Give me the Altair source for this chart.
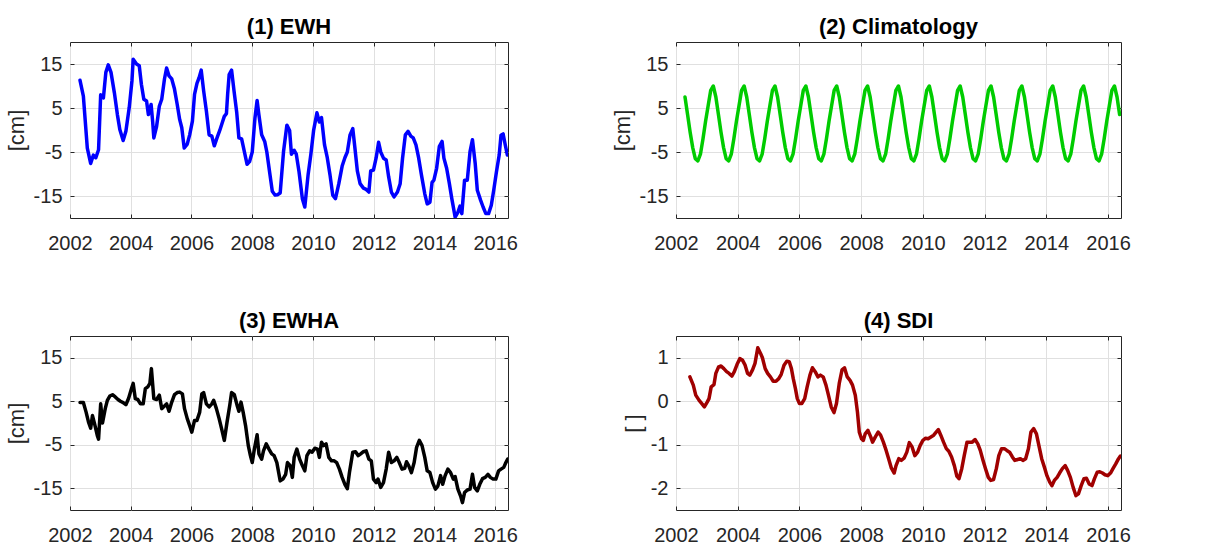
import altair as alt
import pandas as pd

FONT = "Liberation Sans"
TXT = "#262626"

X_TICKS = [2002, 2004, 2006, 2008, 2010, 2012, 2014, 2016]
X_DOMAIN = [2002.0, 2016.42]

# (1) EWH [cm]
ewh_t = [2002.33, 2002.44, 2002.57, 2002.68, 2002.77, 2002.85, 2002.94, 2003.01, 2003.10, 2003.18,
         2003.26, 2003.35, 2003.46, 2003.56, 2003.64, 2003.75, 2003.84, 2003.95, 2004.04, 2004.08,
         2004.19, 2004.28, 2004.35, 2004.43, 2004.52, 2004.58, 2004.67, 2004.72, 2004.76, 2004.85,
         2004.94, 2005.02, 2005.11, 2005.18, 2005.26, 2005.35, 2005.44, 2005.53, 2005.61, 2005.68,
         2005.76, 2005.86, 2005.94, 2006.03, 2006.10, 2006.18, 2006.25, 2006.32, 2006.40, 2006.49,
         2006.58, 2006.67, 2006.75, 2006.84, 2006.93, 2007.02, 2007.08, 2007.15, 2007.19, 2007.24,
         2007.32, 2007.40, 2007.49, 2007.56, 2007.65, 2007.74, 2007.83, 2007.91, 2008.00, 2008.09,
         2008.16, 2008.22, 2008.31, 2008.41, 2008.48, 2008.57, 2008.66, 2008.75, 2008.83, 2008.92,
         2009.03, 2009.14, 2009.23, 2009.29, 2009.38, 2009.45, 2009.54, 2009.65, 2009.73, 2009.84,
         2009.93, 2010.02, 2010.13, 2010.21, 2010.28, 2010.38, 2010.47, 2010.56, 2010.65, 2010.74,
         2010.85, 2010.96, 2011.05, 2011.13, 2011.22, 2011.31, 2011.38, 2011.46, 2011.55, 2011.66,
         2011.75, 2011.84, 2011.90, 2011.99, 2012.08, 2012.16, 2012.23, 2012.32, 2012.41, 2012.49,
         2012.58, 2012.67, 2012.78, 2012.87, 2012.95, 2013.04, 2013.13, 2013.22, 2013.30, 2013.39,
         2013.48, 2013.57, 2013.68, 2013.76, 2013.85, 2013.92, 2013.98, 2014.07, 2014.16, 2014.25,
         2014.31, 2014.40, 2014.49, 2014.57, 2014.68, 2014.77, 2014.84, 2014.90, 2014.99, 2015.08,
         2015.17, 2015.25, 2015.34, 2015.41, 2015.52, 2015.60, 2015.69, 2015.78, 2015.87, 2015.95,
         2016.04, 2016.13, 2016.19, 2016.26, 2016.33, 2016.40]
ewh_v = [11.3, 7.7, -4.1, -7.6, -5.7, -6.3, -4.5, 8.0, 7.3, 13.1,
         14.8, 13.1, 8.5, 3.5, 0.1, -2.4, -0.3, 5.1, 11.2, 16.1,
         15.0, 14.6, 10.4, 7.0, 6.6, 3.5, 5.8, 2.0, -1.8, 0.8,
         5.4, 7.0, 11.6, 14.1, 12.3, 11.6, 9.3, 5.8, 2.4, 0.5,
         -4.1, -3.2, -1.1, 2.0, 8.1, 10.6, 11.9, 13.6, 8.9, 4.3,
         -1.1, -1.4, -3.6, -1.8, -0.1, 1.8, 3.1, 3.7, 8.1, 12.6,
         13.6, 8.9, 3.9, -1.8, -2.0, -4.9, -7.8, -7.2, -5.0, 2.8,
         6.7, 3.4, -1.1, -2.6, -5.0, -9.5, -13.9, -14.8, -14.7, -14.3,
         -4.9, 1.1, -0.1, -5.5, -4.6, -5.5, -9.5, -15.6, -17.5, -10.1,
         -5.5, -0.1, 3.9, 1.8, 2.8, -3.4, -6.3, -10.2, -14.8, -15.6,
         -12.2, -8.2, -6.3, -5.0, -1.1, 0.3, -4.1, -9.3, -12.2, -13.2,
         -13.5, -14.1, -9.3, -9.1, -6.3, -2.8, -5.0, -6.4, -6.8, -10.6,
         -14.1, -15.2, -14.1, -12.2, -6.3, -1.1, -0.3, -1.4, -1.8, -3.4,
         -6.4, -10.2, -14.5, -16.8, -16.4, -11.9, -11.4, -8.7, -3.7, -2.6,
         -6.4, -8.7, -12.2, -15.6, -19.8, -18.7, -17.3, -19.0, -11.4, -11.4,
         -4.9, -2.2, -7.6, -13.7, -16.0, -17.5, -19.0, -19.0, -17.1, -13.7,
         -9.5, -5.7, -1.2, -0.9, -3.4, -5.7]

# (2) Climatology [cm], monthly from Apr 2002 to May 2016
clim_v = [
    7.5, 3.5, -0.5, -4.0, -6.5, -7.0, -5.5, -2.0, 2.0,                     # 2002 Apr-Dec
    5.5, 9.0, 10.0, 7.5, 3.5, -0.5, -4.0, -6.5, -7.0, -5.5, -2.0, 2.0,     # 2003
    5.5, 9.0, 10.0, 7.5, 3.5, -0.5, -4.0, -6.5, -7.0, -5.5, -2.0, 2.0,     # 2004
    5.5, 9.0, 10.0, 7.5, 3.5, -0.5, -4.0, -6.5, -7.0, -5.5, -2.0, 2.0,     # 2005
    5.5, 9.0, 10.0, 7.5, 3.5, -0.5, -4.0, -6.5, -7.0, -5.5, -2.0, 2.0,     # 2006
    5.5, 9.0, 10.0, 7.5, 3.5, -0.5, -4.0, -6.5, -7.0, -5.5, -2.0, 2.0,     # 2007
    5.5, 9.0, 10.0, 7.5, 3.5, -0.5, -4.0, -6.5, -7.0, -5.5, -2.0, 2.0,     # 2008
    5.5, 9.0, 10.0, 7.5, 3.5, -0.5, -4.0, -6.5, -7.0, -5.5, -2.0, 2.0,     # 2009
    5.5, 9.0, 10.0, 7.5, 3.5, -0.5, -4.0, -6.5, -7.0, -5.5, -2.0, 2.0,     # 2010
    5.5, 9.0, 10.0, 7.5, 3.5, -0.5, -4.0, -6.5, -7.0, -5.5, -2.0, 2.0,     # 2011
    5.5, 9.0, 10.0, 7.5, 3.5, -0.5, -4.0, -6.5, -7.0, -5.5, -2.0, 2.0,     # 2012
    5.5, 9.0, 10.0, 7.5, 3.5, -0.5, -4.0, -6.5, -7.0, -5.5, -2.0, 2.0,     # 2013
    5.5, 9.0, 10.0, 7.5, 3.5, -0.5, -4.0, -6.5, -7.0, -5.5, -2.0, 2.0,     # 2014
    5.5, 9.0, 10.0, 7.5, 3.5, -0.5, -4.0, -6.5, -7.0, -5.5, -2.0, 2.0,     # 2015
    5.5, 9.0, 10.0, 7.5, 3.5,                                              # 2016 Jan-May
]
clim_dates = pd.date_range("2002-04-01", "2016-05-01", freq="MS")
clim_t = [d.year + (d.month - 0.5) / 12.0 for d in clim_dates]

# (3) EWHA [cm]
ewha_t = [2002.33, 2002.44, 2002.53, 2002.61, 2002.68, 2002.74, 2002.81, 2002.90, 2002.94, 2003.01,
          2003.07, 2003.16, 2003.23, 2003.31, 2003.40, 2003.49, 2003.58, 2003.66, 2003.75, 2003.84,
          2003.93, 2004.02, 2004.08, 2004.15, 2004.23, 2004.32, 2004.41, 2004.48, 2004.56, 2004.63,
          2004.68, 2004.76, 2004.85, 2004.94, 2005.02, 2005.11, 2005.18, 2005.26, 2005.35, 2005.44,
          2005.53, 2005.61, 2005.70, 2005.77, 2005.86, 2005.94, 2006.01, 2006.10, 2006.18, 2006.27,
          2006.34, 2006.40, 2006.49, 2006.58, 2006.67, 2006.73, 2006.82, 2006.91, 2006.99, 2007.08,
          2007.17, 2007.26, 2007.32, 2007.41, 2007.50, 2007.56, 2007.63, 2007.70, 2007.78, 2007.87,
          2007.94, 2008.00, 2008.07, 2008.16, 2008.22, 2008.31, 2008.37, 2008.46, 2008.55, 2008.64,
          2008.72, 2008.81, 2008.92, 2009.01, 2009.10, 2009.16, 2009.25, 2009.32, 2009.38, 2009.47,
          2009.56, 2009.65, 2009.73, 2009.80, 2009.89, 2009.97, 2010.06, 2010.15, 2010.21, 2010.28,
          2010.35, 2010.43, 2010.52, 2010.61, 2010.70, 2010.78, 2010.87, 2010.96, 2011.05, 2011.13,
          2011.20, 2011.31, 2011.40, 2011.49, 2011.57, 2011.66, 2011.75, 2011.84, 2011.92, 2011.99,
          2012.08, 2012.14, 2012.23, 2012.32, 2012.41, 2012.49, 2012.58, 2012.67, 2012.76, 2012.84,
          2012.93, 2013.02, 2013.08, 2013.15, 2013.24, 2013.33, 2013.41, 2013.50, 2013.59, 2013.68,
          2013.76, 2013.85, 2013.94, 2014.03, 2014.11, 2014.20, 2014.27, 2014.35, 2014.44, 2014.53,
          2014.62, 2014.68, 2014.77, 2014.86, 2014.92, 2014.99, 2015.08, 2015.17, 2015.25, 2015.32,
          2015.41, 2015.49, 2015.58, 2015.67, 2015.76, 2015.84, 2015.93, 2016.02, 2016.11, 2016.19,
          2016.28, 2016.35, 2016.41]
ewha_v = [4.7, 4.7, 2.5, 0.2, -1.2, 1.7, -0.2, -2.9, -3.7, 4.4,
          0.0, 3.3, 5.2, 6.2, 6.5, 6.0, 5.4, 5.0, 4.7, 4.2,
          5.7, 7.8, 9.1, 5.6, 5.4, 4.4, 4.4, 7.9, 8.3, 9.1,
          12.5, 5.6, 5.4, 6.4, 3.3, 3.9, 4.4, 2.7, 4.8, 6.5,
          7.0, 7.1, 6.7, 3.3, 1.0, -0.6, -2.1, 0.6, 0.6, 2.5,
          6.7, 7.0, 4.4, 3.7, 4.4, 5.2, 3.3, 1.0, -1.3, -4.0,
          0.2, 4.1, 7.0, 6.5, 4.1, 2.7, 4.8, 2.5, -0.6, -5.2,
          -7.5, -9.1, -6.0, -2.7, -7.1, -8.3, -6.4, -4.8, -6.0, -7.1,
          -7.5, -9.1, -13.3, -12.9, -11.8, -9.1, -9.8, -12.5, -7.9, -6.0,
          -8.3, -9.8, -11.0, -7.5, -6.4, -6.7, -5.8, -6.0, -7.9, -4.4,
          -5.2, -4.8, -7.9, -8.7, -8.7, -9.1, -10.6, -12.5, -14.1, -15.1,
          -11.4, -6.7, -6.6, -7.5, -7.1, -6.6, -6.4, -8.3, -8.7, -12.9,
          -13.7, -12.9, -14.8, -13.7, -10.6, -6.7, -9.1, -8.7, -7.9, -9.1,
          -10.6, -10.4, -8.9, -9.8, -11.4, -9.1, -5.6, -4.0, -5.2, -7.9,
          -11.0, -11.4, -13.7, -15.2, -14.5, -12.1, -14.1, -12.1, -10.6, -11.4,
          -12.9, -12.3, -15.2, -16.8, -18.3, -16.0, -15.4, -15.2, -11.8, -14.8,
          -15.6, -14.1, -12.8, -12.5, -11.8, -12.5, -12.9, -12.9, -11.0, -10.6,
          -10.2, -9.1, -8.3]

# (4) SDI []
sdi_t = [2002.45, 2002.56, 2002.64, 2002.75, 2002.83, 2002.92, 2003.01, 2003.07, 2003.14, 2003.23,
         2003.29, 2003.38, 2003.46, 2003.55, 2003.64, 2003.72, 2003.81, 2003.89, 2003.98, 2004.07,
         2004.15, 2004.24, 2004.32, 2004.39, 2004.48, 2004.56, 2004.65, 2004.74, 2004.80, 2004.89,
         2004.97, 2005.06, 2005.15, 2005.24, 2005.33, 2005.41, 2005.50, 2005.59, 2005.67, 2005.74,
         2005.80, 2005.87, 2005.93, 2006.00, 2006.08, 2006.17, 2006.25, 2006.34, 2006.42, 2006.51,
         2006.60, 2006.68, 2006.77, 2006.86, 2006.94, 2007.03, 2007.12, 2007.20, 2007.29, 2007.38,
         2007.46, 2007.55, 2007.64, 2007.72, 2007.81, 2007.88, 2007.94, 2008.01, 2008.07, 2008.13,
         2008.22, 2008.31, 2008.37, 2008.46, 2008.55, 2008.63, 2008.72, 2008.81, 2008.89, 2008.98,
         2009.07, 2009.13, 2009.22, 2009.30, 2009.39, 2009.48, 2009.56, 2009.65, 2009.74, 2009.83,
         2009.91, 2010.00, 2010.09, 2010.17, 2010.26, 2010.35, 2010.43, 2010.50, 2010.58, 2010.67,
         2010.76, 2010.84, 2010.93, 2011.02, 2011.10, 2011.17, 2011.26, 2011.34, 2011.43, 2011.52,
         2011.60, 2011.69, 2011.78, 2011.86, 2011.95, 2012.03, 2012.12, 2012.20, 2012.29, 2012.38,
         2012.46, 2012.55, 2012.64, 2012.72, 2012.81, 2012.90, 2012.98, 2013.07, 2013.16, 2013.24,
         2013.33, 2013.42, 2013.50, 2013.59, 2013.68, 2013.76, 2013.85, 2013.94, 2014.02, 2014.11,
         2014.18, 2014.26, 2014.35, 2014.43, 2014.52, 2014.61, 2014.69, 2014.78, 2014.87, 2014.96,
         2015.04, 2015.13, 2015.22, 2015.30, 2015.39, 2015.48, 2015.56, 2015.65, 2015.73, 2015.82,
         2015.90, 2015.99, 2016.08, 2016.16, 2016.25, 2016.34, 2016.40]
sdi_v = [0.56, 0.37, 0.14, 0.02, -0.05, -0.13, -0.02, 0.06, 0.33, 0.38,
         0.64, 0.79, 0.81, 0.75, 0.68, 0.64, 0.58, 0.68, 0.85, 0.98,
         0.95, 0.83, 0.64, 0.60, 0.72, 0.87, 1.23, 1.10, 1.00, 0.75,
         0.64, 0.56, 0.46, 0.46, 0.52, 0.62, 0.83, 0.92, 0.91, 0.75,
         0.52, 0.29, 0.06, -0.05, -0.05, 0.06, 0.33, 0.60, 0.77, 0.68,
         0.56, 0.60, 0.56, 0.37, 0.14, -0.13, -0.26, -0.05, 0.41, 0.72,
         0.77, 0.56, 0.48, 0.37, 0.14, -0.25, -0.71, -0.86, -0.90, -0.75,
         -0.67, -0.82, -0.94, -0.82, -0.71, -0.78, -0.94, -1.13, -1.32, -1.54,
         -1.65, -1.48, -1.32, -1.36, -1.31, -1.17, -0.95, -1.05, -1.25, -1.17,
         -1.02, -0.90, -0.85, -0.86, -0.82, -0.78, -0.71, -0.65, -0.78, -0.94,
         -1.09, -1.15, -1.28, -1.48, -1.72, -1.78, -1.55, -1.25, -0.94, -0.94,
         -0.94, -0.88, -0.98, -1.13, -1.36, -1.55, -1.75, -1.82, -1.80, -1.55,
         -1.25, -1.09, -1.09, -1.13, -1.17, -1.28, -1.36, -1.34, -1.32, -1.36,
         -1.32, -1.09, -0.71, -0.63, -0.75, -1.02, -1.32, -1.52, -1.71, -1.86,
         -1.94, -1.82, -1.75, -1.65, -1.55, -1.48, -1.59, -1.75, -1.98, -2.17,
         -2.13, -1.94, -1.78, -1.77, -1.90, -1.94, -1.78, -1.63, -1.62, -1.65,
         -1.69, -1.71, -1.65, -1.55, -1.44, -1.32, -1.26]


def panel(t, v, title, ytitle, color, ydomain, yticks, w, h):
    df = pd.DataFrame({"t": t, "v": v})
    xs = alt.Scale(domain=X_DOMAIN, nice=False, zero=False)
    ys = alt.Scale(domain=ydomain, nice=False, zero=False)
    main = alt.Chart(df).mark_line(color=color, strokeWidth=3.5, clip=True,
                                   strokeJoin="round", strokeCap="round").encode(
        x=alt.X("t:Q", scale=xs, title=None,
                axis=alt.Axis(orient="bottom", values=X_TICKS, labelExpr="datum.value + ''",
                              offset=-4, tickSize=4, domain=False, grid=True,
                              labelPadding=15, labelFlush=False, labelOverlap=False)),
        y=alt.Y("v:Q", scale=ys, title=ytitle,
                axis=alt.Axis(orient="left", values=yticks, labelExpr="datum.value + ''",
                              offset=-4, tickSize=4, domain=False, grid=True,
                              labelPadding=8, titlePadding=5, labelOverlap=False)),
    )
    ghost = alt.Chart(df).mark_line(strokeOpacity=0).encode(
        x=alt.X("t:Q", scale=xs, title=None,
                axis=alt.Axis(orient="top", values=X_TICKS, labels=False, offset=-4,
                              tickSize=4, domain=False, grid=False)),
        y=alt.Y("v:Q", scale=ys, title=None,
                axis=alt.Axis(orient="right", values=yticks, labels=False, offset=-4,
                              tickSize=4, domain=False, grid=False)),
    )
    return (alt.layer(main, ghost)
            .resolve_axis(x="independent", y="independent")
            .properties(width=w, height=h,
                        title=alt.TitleParams(title, fontSize=22, fontWeight="bold", font=FONT,
                                              color="black", anchor="middle", frame="group",
                                              offset=3)))


p1 = panel(ewh_t, ewh_v, "(1) EWH", "[cm]", "#0000FF", [-20, 20], [-15, -5, 5, 15], 438, 176)
p2 = panel(clim_t, clim_v, "(2) Climatology", "[cm]", "#00CC00", [-20, 20], [-15, -5, 5, 15], 445, 176)
p3 = panel(ewha_t, ewha_v, "(3) EWHA", "[cm]", "#000000", [-20, 20], [-15, -5, 5, 15], 438, 174)
p4 = panel(sdi_t, sdi_v, "(4) SDI", "[ ]", "#A00000", [-2.5, 1.5], [-2, -1, 0, 1], 445, 174)

chart = (alt.concat(p1, p2, p3, p4, columns=2, bounds="flush",
                    spacing={"row": 118, "column": 168})
         .properties(padding={"left": 4, "top": 15, "right": 5, "bottom": 5},
                     background="white")
         .configure_view(stroke=TXT, strokeWidth=1)
         .configure_axis(labelFont=FONT, labelFontSize=20, labelColor=TXT,
                         titleFont=FONT, titleFontSize=22, titleFontWeight="normal",
                         titleColor=TXT, tickColor=TXT, tickWidth=1,
                         gridColor="#e0e0e0", gridWidth=1, gridOpacity=1))

chart.save("out.html", embed_options={"renderer": "svg", "actions": False})
